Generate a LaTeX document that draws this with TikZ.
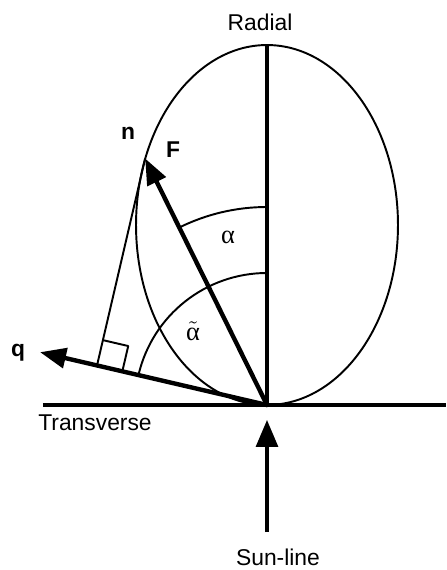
\documentclass[tikz,border=0pt]{standalone}
\usepackage{fontspec}
\setmainfont{Liberation Sans}
\newfontfamily\greekfont{Liberation Serif}
\usetikzlibrary{arrows.meta,calc}
\tikzset{
  outline/.style={draw=black, line width=1.1pt},
  axisline/.style={draw=black, line width=1.8pt},
  vec/.style={draw=black, line width=2.5pt, line cap=round,
    -{Triangle[length=5.2mm,width=4mm]}},
  sunarr/.style={draw=black, line width=1.8pt,
    -{Triangle[length=5.4mm,width=4.4mm]}},
  lbl/.style={font=\fontsize{13}{15}\selectfont, inner sep=0pt},
  vlbl/.style={lbl, font=\fontsize{13}{15}\selectfont\bfseries},
  glbl/.style={inner sep=0pt, font=\fontsize{15}{17}\selectfont\greekfont},
  every picture/.append style={line join=round}
}
\begin{document}
\begin{tikzpicture}[x=0.02cm, y=0.02cm]
  \useasboundingbox (-267,-165) rectangle (179,405);
  % points
  \coordinate (O) at (0,0);
  \coordinate (top) at (0,360);
  \coordinate (left) at (-224,0);
  \coordinate (right) at (179,0);
  \coordinate (n) at (116.3:275);
  \coordinate (qtip) at (166.9:233);
  \coordinate (foot) at ($(O)!(n)!(qtip)$);
  \coordinate (sq1) at ($(foot)!0.52cm!(O)$);
  \coordinate (sq3) at ($(foot)!0.52cm!(n)$);
  \coordinate (sq2) at ($(sq1)+(sq3)-(foot)$);
  \coordinate (sunbot) at (0,-127);
  \coordinate (suntip) at (0,-15);
  % ellipse and axes
  \draw[outline] (0,180) ellipse [x radius=2.62cm, y radius=3.6cm];
  \draw[axisline] (left) -- (right);
  \draw[axisline] (O) -- (top);
  % angles
  \draw[outline] (0,198) arc [start angle=90, end angle=116.3, radius=3.96cm];
  \draw[outline] (0,132) arc [start angle=90, end angle=166.9, radius=2.64cm];
  % normal and right angle
  \draw[outline] (n) -- (foot);
  \draw[outline] (sq1) -- (sq2) -- (sq3);
  % vectors
  \draw[vec] (O) -- (n);
  \draw[vec] (O) -- (qtip);
  \draw[sunarr] (sunbot) -- (suntip);
  % labels
  \node[lbl] (radial) at (-7,383) {Radial};
  \node[lbl] (trans) at (-172,-18) {Transverse};
  \node[lbl] (sun) at (11,-152) {Sun-line};
  \node[vlbl] (nlbl) at (-139,272) {n};
  \node[vlbl] (flbl) at (-94,255) {F};
  \node[vlbl] (qlbl) at (-249,52) {q};
  \node[glbl] (alpha) at (-39,168) {α};
  \node[glbl] (alphat) at (-74,74) {$\tilde{\mbox{\greekfont α}}$};
\end{tikzpicture}
\end{document}
